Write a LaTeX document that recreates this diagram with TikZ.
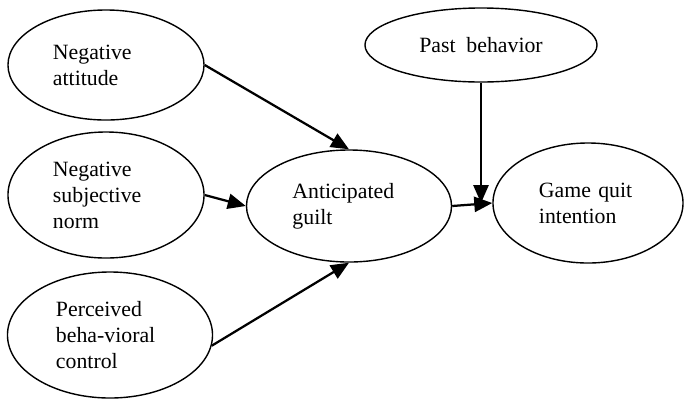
\documentclass[tikz,border=0pt]{standalone}
\usepackage{fontspec}
\setmainfont{Liberation Serif}
\usetikzlibrary{shapes,positioning,arrows.meta}

\tikzset{
  blob/.style={ellipse, draw, line width=1pt, align=left,
    font=\fontsize{15.5}{18.5}\selectfont, inner sep=0pt},
  link/.style={->, line width=1.6pt},
  >={Triangle[length=4.5mm,width=3.8mm]}
}

\begin{document}
\begin{tikzpicture}[x=0.025cm,y=-0.025cm]
\useasboundingbox (0,0) rectangle (685,404);
\node[blob, minimum width=4.9cm, minimum height=2.75cm, text width=2.65cm] (na) at (106,65) {Negative\\attitude};
\node[blob, minimum width=4.9cm, minimum height=3.15cm, text width=2.65cm] (nsn) at (106,195) {Negative\\subjective\\norm};
\node[blob, minimum width=5.125cm, minimum height=3.15cm, text width=2.7cm] (pbc) at (110,335) {Perceived\\beha-vioral\\control};
\node[blob, minimum width=5.125cm, minimum height=2.8cm, text width=2.825cm] (ag) at (349,206) {Anticipated\\guilt};
\node[blob, minimum width=5.8cm, minimum height=1.85cm] (pb) at (481,45) {Past\ \ behavior};
\node[blob, minimum width=4.75cm, minimum height=3cm, text width=2.45cm] (gqi) at (588,203) {Game quit\\intention};
\coordinate (meet) at (pb.south |- gqi.west);
\draw[link] (na.east) -- (ag.north);
\draw[link] (nsn.east) -- (ag.west);
\draw[link] (pbc.-6) -- (ag.south);
\draw[link] (ag.east) -- (gqi.west);
\draw[link] (pb.south) -- (meet);
\end{tikzpicture}
\end{document}
